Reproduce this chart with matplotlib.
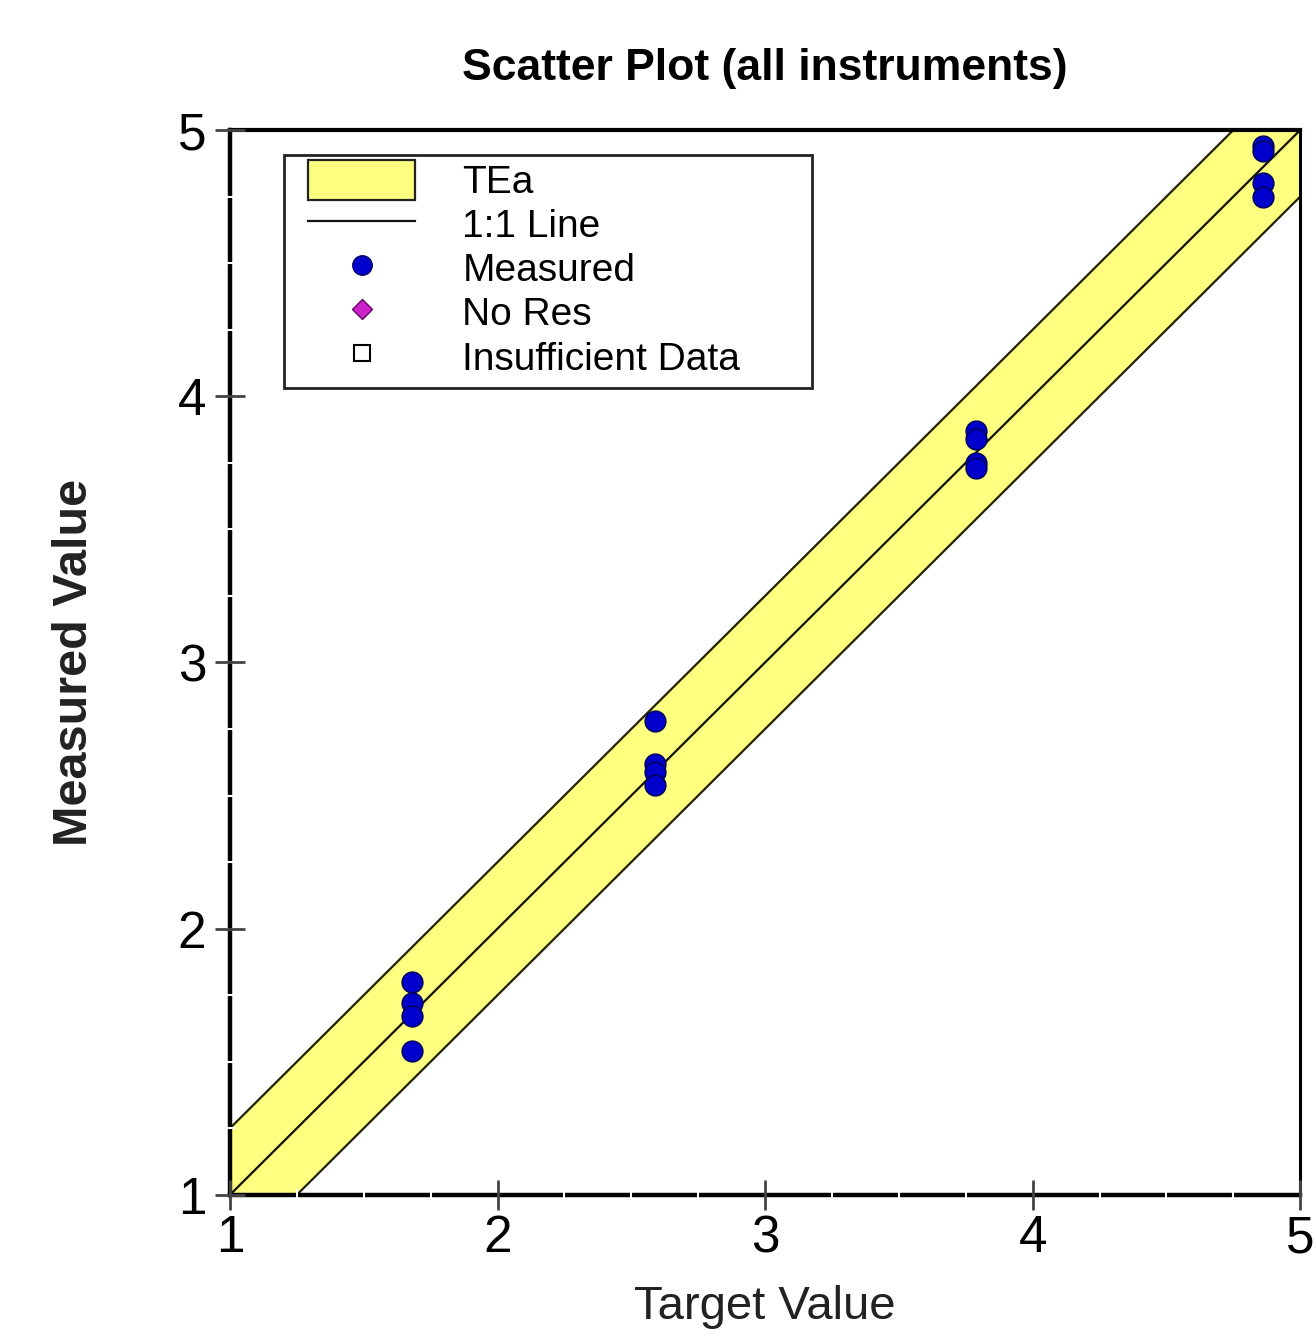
import matplotlib.pyplot as plt
from matplotlib.patches import Patch, Rectangle
from matplotlib.lines import Line2D
from matplotlib.ticker import MultipleLocator

plt.rcParams['font.family'] = ['Liberation Sans', 'DejaVu Sans']

# data
tea = 0.25
target = [1.68, 1.68, 1.68, 1.68,
          2.59, 2.59, 2.59, 2.59,
          3.79, 3.79, 3.79, 3.79,
          4.86, 4.86, 4.86, 4.86]
measured = [1.80, 1.72, 1.67, 1.54,
            2.78, 2.62, 2.59, 2.54,
            3.87, 3.84, 3.75, 3.73,
            4.94, 4.92, 4.80, 4.75]
ticks = [1, 2, 3, 4, 5]
labels = ['TEa', '1:1 Line', 'Measured', 'No Res', 'Insufficient Data']

fig = plt.figure(figsize=(13.14, 13.41), dpi=100)
ax = fig.add_axes([0.175, 0.109, 0.8145, 0.794])

xs = [0.5, 5.5]
ax.fill_between(xs, [x - tea for x in xs], [x + tea for x in xs],
                facecolor='#ffff80', edgecolor='none', zorder=1)
ax.plot(xs, [x + tea for x in xs], color='#222200', lw=1.6, zorder=2)
ax.plot(xs, [x - tea for x in xs], color='#222200', lw=1.6, zorder=2)
ax.plot(xs, xs, color='#111100', lw=1.6, zorder=2)
ax.scatter(target, measured, s=220, color='#0000cc', edgecolors='#000066',
           linewidths=1.2, zorder=4, clip_on=False)

ax.set_xlim(1, 5)
ax.set_ylim(1, 5)
ax.set_xticks(ticks)
ax.set_yticks(ticks)
ax.xaxis.set_minor_locator(MultipleLocator(0.25))
ax.yaxis.set_minor_locator(MultipleLocator(0.25))
ax.tick_params(which='major', direction='inout', length=22, width=2,
               color='#444444', labelsize=37, pad=3)
ax.tick_params(which='minor', direction='inout', length=8, width=1.5,
               color='white')
ax.tick_params(axis='y', which='major', pad=6)
ax.xaxis.set_zorder(3)
ax.yaxis.set_zorder(3)

for side, w in [('left', 3.2), ('bottom', 3.2), ('top', 3.0), ('right', 2.2)]:
    ax.spines[side].set_linewidth(w)
    ax.spines[side].set_color('black')

ax.set_title('Scatter Plot (all instruments)', fontsize=32, fontweight='bold',
             pad=36)
ax.set_xlabel('Target Value', fontsize=34, color='#222222', labelpad=16)
ax.set_ylabel('Measured Value', fontsize=35, fontweight='bold',
              color='#222222', labelpad=58)

handles = [
    Patch(facecolor='#ffff80', edgecolor='#222222', linewidth=1.6),
    Line2D([], [], color='#111111', lw=1.6),
    Line2D([], [], ls='none', marker='o', markersize=14,
           markerfacecolor='#0000cc', markeredgecolor='#000066'),
    Line2D([], [], ls='none', marker='D', markersize=10,
           markerfacecolor='#cc22cc', markeredgecolor='#660066'),
    Line2D([], [], ls='none', marker='s', markersize=12,
           markerfacecolor='white', markeredgecolor='black', markeredgewidth=1.5),
]
leg = ax.legend(handles, labels, loc='upper left', bbox_to_anchor=(0.073, 0.972),
                fontsize=28, frameon=False, handlelength=2.75,
                handleheight=1.2, handletextpad=1.22, labelspacing=0.08,
                borderpad=0, borderaxespad=0)
leg.set_zorder(6)
ax.add_patch(Rectangle((0.0505, 0.758), 0.4935, 0.2185, transform=ax.transAxes,
                       facecolor='white', edgecolor='#222222', lw=2, zorder=5))

fig.savefig('out.png', dpi=100)
